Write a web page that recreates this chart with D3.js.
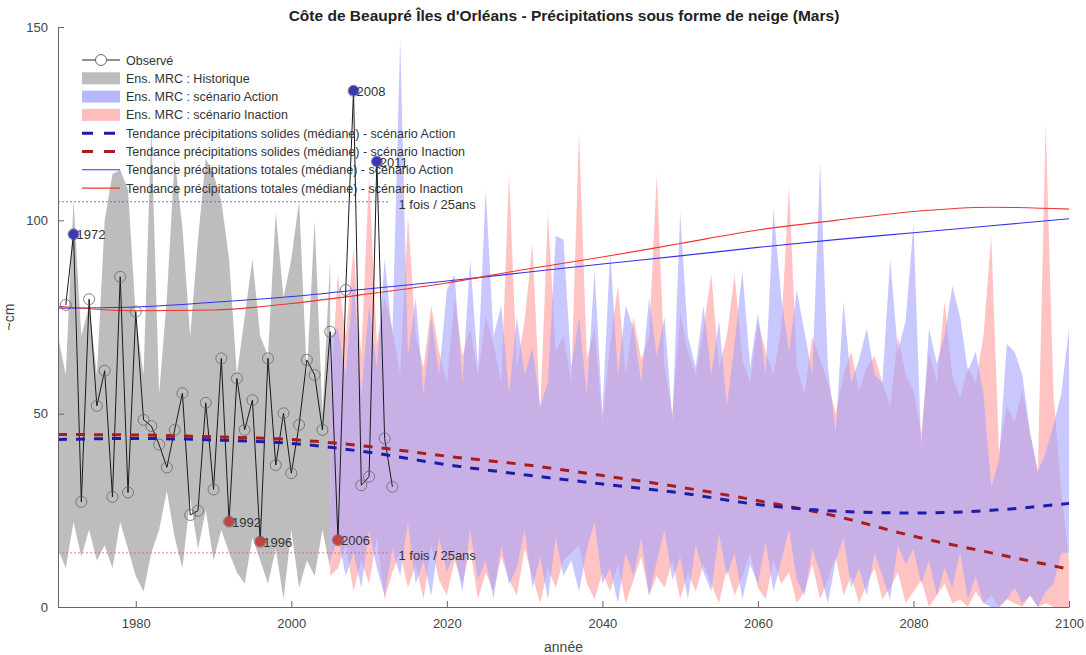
<!DOCTYPE html>
<html>
<head>
<meta charset="utf-8">
<script src="https://cdn.jsdelivr.net/npm/d3@7"></script>
<style>
  body { margin: 0; background: #fff; }
  svg { font-family: "Liberation Sans", Arial, sans-serif; }
  .axis path, .axis line { stroke: #666; }
  .axis text { fill: #444; }
</style>
</head>
<body>
<svg id="chart" width="1086" height="655"></svg>
<script>
const TITLE = "Côte de Beaupré Îles d'Orléans - Précipitations sous forme de neige (Mars)";

// observed, 1971-2013
const obsStart = 1971;
const obsValues = [78.1, 96.4, 27.2, 79.6, 52.0, 61.1, 28.5, 85.4, 29.6, 76.4, 48.4, 46.8, 42, 36.1, 45.8,
  55.3, 23.8, 24.9, 52.8, 30.4, 64.3, 22.1, 59.1, 45.8, 53.5, 16.9, 64.3, 36.7, 50.1, 34.6, 47.1,
  63.9, 60.0, 45.8, 71.2, 17.3, 82.0, 133.5, 31.5, 33.7, 115.2, 43.6, 31.1];
const highYears = [1972, 2008, 2011];
const lowYears = [1992, 1996, 2006];

// historical ensemble envelope, 1970-2005
const histStart = 1970;
const histUpper = [70, 60, 105, 70, 78, 60, 100, 112, 113, 108, 75, 60, 124, 55, 80, 116, 98, 70,
  95, 116, 112, 105, 90, 60, 75, 90, 70, 65, 102, 80, 90, 105, 60, 100, 50, 90];
const histLower = [15, 10, 22, 13, 20, 12, 16, 10, 22, 15, 8, 4, 14, 20, 30, 18, 10, 28,
  15, 25, 12, 20, 14, 9, 6, 18, 12, 6, 15, 2, 20, 5, 12, 8, 20, 10];

// scenario envelopes, 2005-2100
const futStart = 2005;
const actionUpper = [70,
  72, 60, 85, 55, 78, 62, 90, 70, 147, 65,
  80, 55, 75, 60, 82, 86, 58, 90, 62, 108,
  70, 78, 55, 75, 60, 67, 52, 58, 96, 95,
  62, 75, 55, 87, 50, 92, 60, 78, 72, 58,
  80, 65, 75, 48, 102, 70, 62, 78, 60, 74,
  52, 68, 87, 62, 76, 60, 103, 80, 66, 82,
  71, 60, 115, 62, 45, 79, 58, 64, 72, 60,
  58, 90, 66, 74, 99, 41, 72, 63, 70, 83,
  75, 61, 66, 55, 31, 38, 68, 66, 60, 45,
  35, 40, 47, 55, 72];
const actionLower = [12,
  18, 8, 14, 5, 20, 10, 3, 15, 8, 22,
  6, 12, 3, 18, 9, 14, 4, 20, 7, 12,
  2, 16, 6, 10, 20, 5, 13, 2, 18, 8,
  12, 4, 15, 22, 6, 10, 1, 14, 8, 18,
  3, 12, 20, 7, 13, 2, 16, 9, 4, 19,
  8, 14, 2, 11, 6, 17, 4, 12, 20, 7,
  3, 15, 9, 1, 12, 18, 5, 10, 3, 14,
  8, 2, 16, 11, 15, 6, 12, 3, 10, 5,
  14, 2, 8, 1, 0, 0, 2, 5, 1, 3,
  0, 4, 6, 14, 14];
const inactionUpper = [55,
  86, 70, 93, 65, 112, 68, 80, 72, 60, 101,
  70, 62, 78, 66, 58, 80, 65, 72, 60, 75,
  68, 58, 112, 62, 74, 94, 50, 102, 66, 70,
  58, 123, 64, 72, 48, 68, 83, 60, 75, 64,
  70, 112, 62, 50, 76, 66, 60, 72, 86, 62,
  70, 86, 64, 58, 74, 66, 60, 72, 109, 62,
  55, 70, 64, 58, 50, 60, 66, 56, 62, 65,
  58, 52, 70, 60, 56, 45, 66, 58, 79, 60,
  54, 62, 58, 70, 96, 40, 52, 48, 56, 45,
  35, 125, 55, 30, 12];
const inactionLower = [8,
  10, 16, 4, 12, 6, 18, 2, 9, 14, 5,
  11, 2, 16, 7, 3, 12, 6, 15, 2, 9,
  4, 13, 7, 3, 15, 8, 1, 10, 5, 12,
  14, 16, 6, 2, 9, 4, 11, 1, 7, 13,
  3, 8, 5, 12, 2, 9, 4, 11, 6, 1,
  10, 3, 8, 14, 5, 2, 12, 6, 9, 1,
  4, 11, 2, 7, 13, 3, 8, 1, 6, 10,
  2, 5, 9, 1, 4, 7, 0, 3, 6, 1,
  2, 0, 4, 1, 3, 0, 2, 1, 0, 3,
  0, 1, 0, 0, 0];

// median trends, every 10 years 1970-2100
const trendYears = [1970, 1980, 1990, 2000, 2010, 2020, 2030, 2040, 2050, 2060, 2070, 2080, 2090, 2100];
const solidAction = [43.3, 43.6, 43.2, 42.3, 40.0, 36.8, 34.2, 31.8, 29.5, 26.5, 24.8, 24.3, 25.0, 26.8];
const solidInaction = [44.6, 44.5, 44.0, 43.3, 41.5, 39.0, 36.8, 34.0, 31.0, 27.5, 23.5, 18.3, 14.0, 9.8];
const totalAction = [77.3, 77.6, 78.8, 80.3, 82.3, 84.3, 86.5, 88.7, 90.8, 93.0, 95.0, 96.8, 98.6, 100.4];
const totalInaction = [77.8, 76.6, 76.8, 78.5, 81.0, 83.8, 87.3, 90.5, 94.0, 97.5, 100.0, 102.3, 103.4, 102.9];

// 1-in-25-year thresholds
const thresholdHigh = 104.8;
const thresholdLow = 14;
const thresholdEnd = 2012.5;

const xTicks = [1980, 2000, 2020, 2040, 2060, 2080, 2100];
const yTicks = [0, 50, 100, 150];

const LEGEND = [
  { label: "Observé", kind: "obs" },
  { label: "Ens. MRC : Historique", kind: "rect", color: "#bdbdbd" },
  { label: "Ens. MRC : scénario Action", kind: "rect", color: "#b8b8ff" },
  { label: "Ens. MRC : scénario Inaction", kind: "rect", color: "#ffbcbc" },
  { label: "Tendance précipitations solides (médiane) - scénario Action", kind: "dash", color: "#1c1ca8" },
  { label: "Tendance précipitations solides (médiane) - scénario Inaction", kind: "dash", color: "#a81c1c" },
  { label: "Tendance précipitations totales (médiane) - scénario Action", kind: "line", color: "#3333ee" },
  { label: "Tendance précipitations totales (médiane) - scénario Inaction", kind: "line", color: "#ee3333" },
];

const svg = d3.select("#chart");
const margin = { top: 27, right: 17, bottom: 48, left: 58 };
const width = 1086 - margin.left - margin.right;
const height = 655 - margin.top - margin.bottom;

const x = d3.scaleLinear().domain([1970, 2100]).range([0, width]);
const y = d3.scaleLinear().domain([0, 150]).range([height, 0]);

const g = svg.append("g").attr("transform", `translate(${margin.left},${margin.top})`);

function band(start, upper, lower) {
  return upper.map((u, i) => ({ year: start + i, hi: u, lo: lower[i] }));
}
const area = d3.area().x((d) => x(d.year)).y0((d) => y(d.lo)).y1((d) => y(d.hi));

g.append("path").datum(band(histStart, histUpper, histLower))
  .attr("d", area).attr("fill", "#bdbdbd");
g.append("path").datum(band(futStart, inactionUpper, inactionLower))
  .attr("d", area).attr("fill", "#ffa3a3").attr("fill-opacity", 0.65);
g.append("path").datum(band(futStart, actionUpper, actionLower))
  .attr("d", area).attr("fill", "#a3a3ff").attr("fill-opacity", 0.6);

// thresholds
[[thresholdHigh, "#5555cc"], [thresholdLow, "#cc6666"]].forEach(([v, c]) => {
  g.append("line")
    .attr("x1", x(1970)).attr("x2", x(thresholdEnd))
    .attr("y1", y(v)).attr("y2", y(v))
    .attr("stroke", c).attr("stroke-width", 0.8).attr("stroke-dasharray", "2,2");
  g.append("text")
    .attr("x", x(thresholdEnd) + 10).attr("y", y(v) + 7)
    .attr("font-size", 13).attr("fill", "#333")
    .text("1 fois / 25ans");
});

// trends
const trendLine = (vals) => d3.line().curve(d3.curveMonotoneX)
  .x((d, i) => x(trendYears[i])).y((d) => y(d))(vals);

g.append("path").attr("d", trendLine(totalAction))
  .attr("fill", "none").attr("stroke", "#3333ee").attr("stroke-width", 1.1);
g.append("path").attr("d", trendLine(totalInaction))
  .attr("fill", "none").attr("stroke", "#ee3333").attr("stroke-width", 1.1);

// observed
const obs = obsValues.map((v, i) => ({ year: obsStart + i, v }));
g.append("path").datum(obs)
  .attr("d", d3.line().x((d) => x(d.year)).y((d) => y(d.v)))
  .attr("fill", "none").attr("stroke", "#1a1a1a").attr("stroke-width", 1);

g.append("path").attr("d", trendLine(solidInaction))
  .attr("fill", "none").attr("stroke", "#a81c1c").attr("stroke-width", 3)
  .attr("stroke-dasharray", "9,9");
g.append("path").attr("d", trendLine(solidAction))
  .attr("fill", "none").attr("stroke", "#1c1ca8").attr("stroke-width", 3)
  .attr("stroke-dasharray", "9,9");

g.selectAll("circle.obs").data(obs).join("circle")
  .attr("class", "obs")
  .attr("cx", (d) => x(d.year)).attr("cy", (d) => y(d.v)).attr("r", 5.5)
  .attr("fill", "none").attr("stroke", "#666").attr("stroke-width", 0.8);

const extremes = obs.filter((d) => highYears.includes(d.year) || lowYears.includes(d.year));
g.selectAll("circle.ext").data(extremes).join("circle")
  .attr("class", "ext")
  .attr("cx", (d) => x(d.year)).attr("cy", (d) => y(d.v)).attr("r", 5)
  .attr("fill", (d) => (highYears.includes(d.year) ? "#3838b8" : "#c24444"));
g.selectAll("text.ext").data(extremes).join("text")
  .attr("class", "ext")
  .attr("x", (d) => x(d.year) + 3).attr("y", (d) => y(d.v) + 5)
  .attr("font-size", 13).attr("fill", "#333")
  .text((d) => d.year);

// axes
const xAxis = g.append("g").attr("class", "axis").attr("transform", `translate(0,${height})`)
  .call(d3.axisBottom(x).tickValues(xTicks).tickFormat(d3.format("d")).tickSizeInner(-6).tickSizeOuter(0).tickPadding(12));
const yAxis = g.append("g").attr("class", "axis")
  .call(d3.axisLeft(y).tickValues(yTicks).tickSizeInner(-6).tickSizeOuter(0).tickPadding(10));
[xAxis, yAxis].forEach((a) => a.selectAll("text").attr("font-size", 13));

g.append("text").attr("x", width / 2).attr("y", height + 45)
  .attr("text-anchor", "middle").attr("font-size", 14).attr("fill", "#444").text("année");
g.append("text").attr("transform", `translate(-44,${height / 2}) rotate(-90)`)
  .attr("text-anchor", "middle").attr("font-size", 14).attr("fill", "#444").text("~cm");

svg.append("text").attr("x", 564).attr("y", 21)
  .attr("text-anchor", "middle").attr("font-size", 15.5).attr("font-weight", "bold")
  .attr("fill", "#222").text(TITLE);

// legend
const leg = svg.append("g").attr("transform", "translate(82,60)");
LEGEND.forEach((d, i) => {
  const row = leg.append("g").attr("transform", `translate(0,${i * 18.3})`);
  if (d.kind === "obs") {
    row.append("line").attr("x1", 0).attr("x2", 38).attr("stroke", "#222").attr("stroke-width", 1);
    row.append("circle").attr("cx", 19).attr("r", 5.5).attr("fill", "#fff").attr("stroke", "#666");
  } else if (d.kind === "rect") {
    row.append("rect").attr("x", 0).attr("y", -6).attr("width", 38).attr("height", 12).attr("fill", d.color);
  } else if (d.kind === "dash") {
    row.append("line").attr("x1", 0).attr("x2", 38).attr("stroke", d.color)
      .attr("stroke-width", 3).attr("stroke-dasharray", "11,11");
  } else {
    row.append("line").attr("x1", 0).attr("x2", 38).attr("stroke", d.color).attr("stroke-width", 1.1);
  }
  row.append("text").attr("x", 44).attr("y", 4.5).attr("font-size", 12.5).attr("fill", "#333").text(d.label);
});
</script>
</body>
</html>
